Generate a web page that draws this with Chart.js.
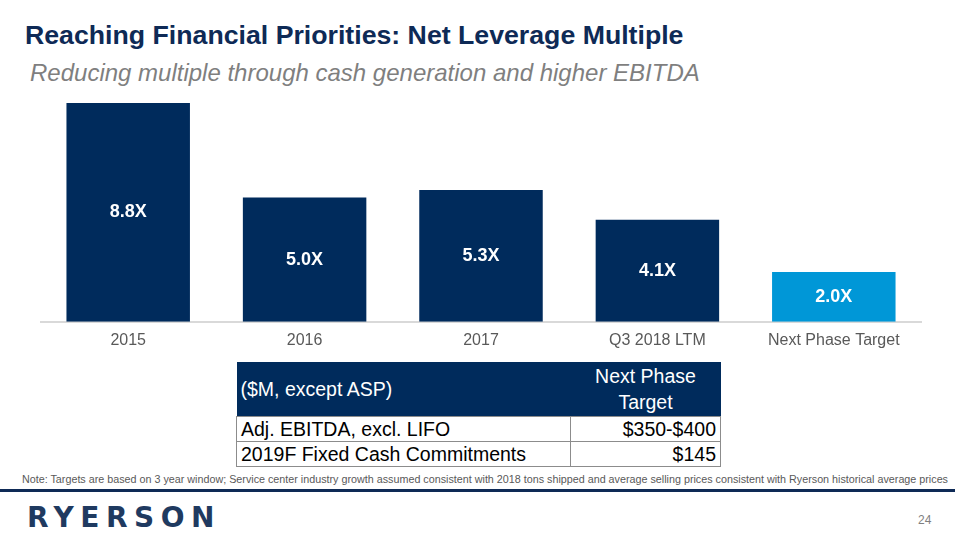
<!DOCTYPE html>
<html>
<head>
<meta charset="utf-8">
<script src="https://cdn.jsdelivr.net/npm/chart.js@4"></script>
<style>
  body { margin: 0; width: 960px; height: 540px; background: #fff; position: relative; overflow: hidden; font-family: "Liberation Sans", Arial, sans-serif; }
  .title { position: absolute; left: 25px; top: 20px; font-size: 26.7px; font-weight: bold; color: #0e2a56; }
  .subtitle { position: absolute; left: 30px; top: 59px; font-size: 24px; font-style: italic; color: #7f7f7f; }
  .chart-box { position: absolute; left: 40px; top: 98px; width: 882px; height: 253px; }
  table { position: absolute; left: 236px; top: 362px; width: 485px; border-collapse: collapse; font-size: 19.5px; color: #000; }
  th { background: #002b5c; color: #fff; font-weight: normal; height: 52px; line-height: 26px; }
  th:first-child { text-align: left; padding-left: 4px; }
  th:last-child { text-align: center; width: 148px; }
  td { border: 1px solid #8c8c8c; height: 24px; padding: 0 4px; line-height: 24px; }
  td:last-child { text-align: right; }
  .note { position: absolute; left: 22px; top: 473px; font-size: 10.75px; color: #595959; white-space: nowrap; }
  .rule { position: absolute; left: 0; top: 489px; width: 955px; height: 3px; background: #0e2a56; }
  .logo { position: absolute; left: 27px; top: 501px; font-size: 28px; font-weight: bold; color: #1f3a60; letter-spacing: 6.5px; font-family: "DejaVu Sans", sans-serif; }
  .page { position: absolute; left: 918px; top: 513px; font-size: 12px; color: #7f7f7f; }
</style>
</head>
<body>
<div class="title">Reaching Financial Priorities: Net Leverage Multiple</div>
<div class="subtitle">Reducing multiple through cash generation and higher EBITDA</div>
<div class="chart-box"><canvas id="chart"></canvas></div>
<table id="tbl"></table>
<div class="note">Note: Targets are based on 3 year window; Service center industry growth assumed consistent with 2018 tons shipped and average selling prices consistent with Ryerson historical average prices</div>
<div class="rule"></div>
<div class="logo">RYERSON</div>
<div class="page">24</div>

<script>
const categories = ['2015', '2016', '2017', 'Q3 2018 LTM', 'Next Phase Target'];
const leverage = [8.8, 5.0, 5.3, 4.1, 2.0];
const barColors = ['#002b5c', '#002b5c', '#002b5c', '#002b5c', '#0097d7'];

const tableHeader = ['($M, except ASP)', 'Next Phase<br>Target'];
const tableRows = [
    ['Adj. EBITDA, excl. LIFO', '$350-$400'],
    ['2019F Fixed Cash Commitments', '$145']
];

// build the table
const tbl = document.getElementById('tbl');
tbl.innerHTML = '<tr><th>' + tableHeader[0] + '</th><th>' + tableHeader[1] + '</th></tr>' +
    tableRows.map(r => '<tr><td>' + r[0] + '</td><td>' + r[1] + '</td></tr>').join('');

// labels centred inside each bar
const barLabels = {
    id: 'barLabels',
    afterDatasetsDraw(chart) {
        const ctx = chart.ctx;
        const meta = chart.getDatasetMeta(0);
        ctx.save();
        ctx.fillStyle = '#fff';
        ctx.font = 'bold 18px "Liberation Sans", Arial, sans-serif';
        ctx.textAlign = 'center';
        ctx.textBaseline = 'middle';
        meta.data.forEach((bar, i) => {
            const mid = (bar.y + bar.base) / 2;
            ctx.fillText(leverage[i].toFixed(1) + 'X', bar.x, mid);
        });
        ctx.restore();
    }
};

new Chart(document.getElementById('chart'), {
    type: 'bar',
    data: {
        labels: categories,
        datasets: [{
            data: leverage,
            backgroundColor: barColors,
            categoryPercentage: 1,
            barPercentage: 0.7
        }]
    },
    options: {
        responsive: true,
        maintainAspectRatio: false,
        animation: false,
        layout: { padding: 0 },
        plugins: { legend: { display: false }, tooltip: { enabled: false } },
        scales: {
            x: {
                grid: { display: false },
                border: { display: true, color: '#d9d9d9', width: 2 },
                ticks: { color: '#595959', font: { size: 16, family: '"Liberation Sans", Arial, sans-serif' }, padding: 1 }
            },
            y: {
                display: false,
                min: 0,
                max: 9
            }
        }
    },
    plugins: [barLabels]
});
</script>
</body>
</html>
